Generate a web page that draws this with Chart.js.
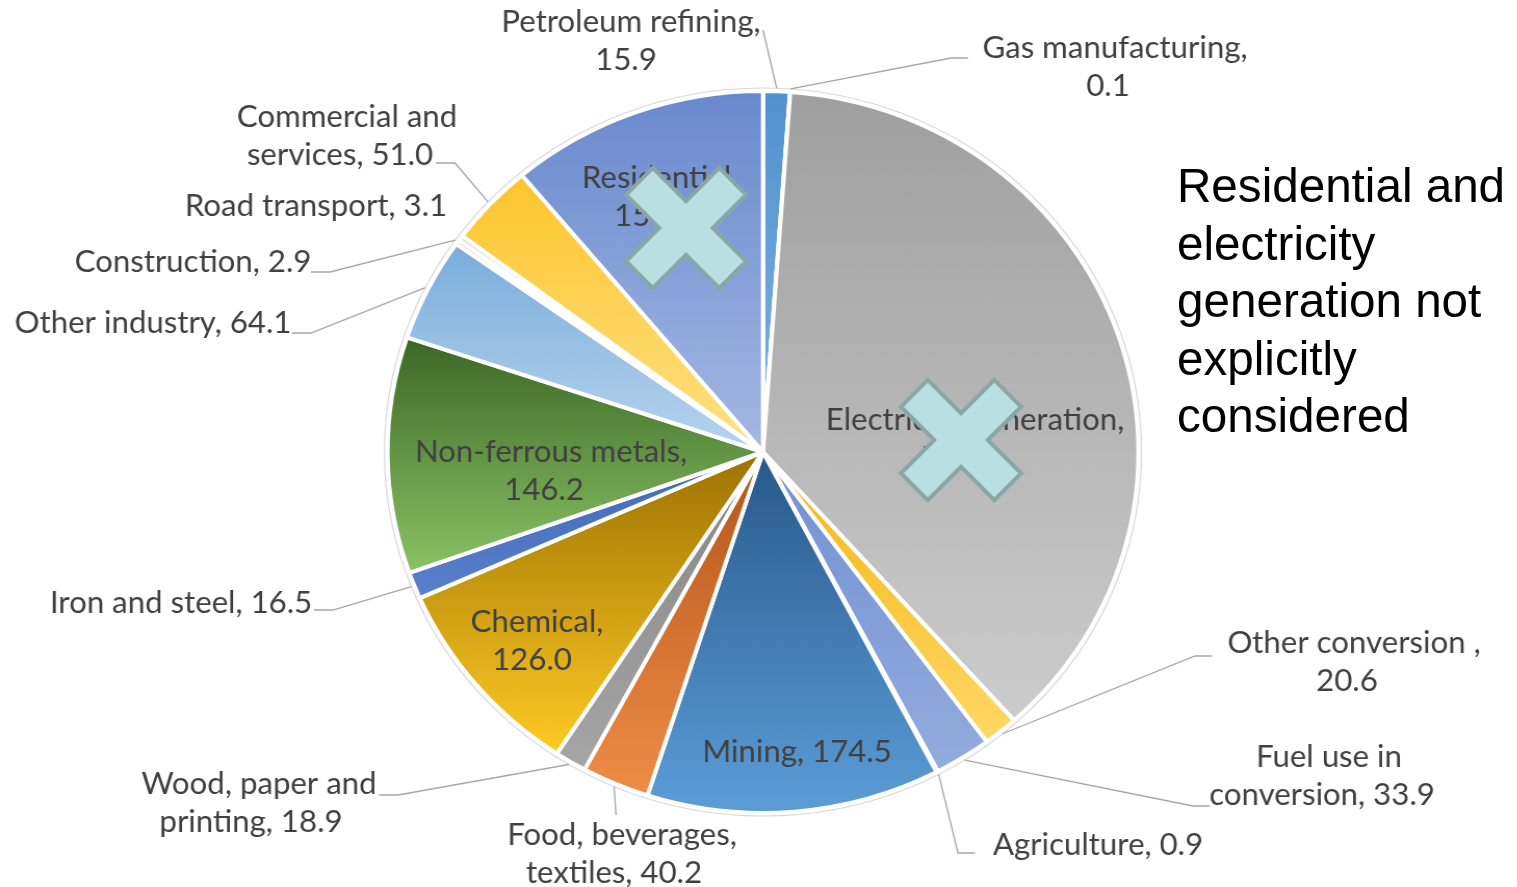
<!DOCTYPE html>
<html>
<head>
<meta charset="utf-8">
<script src="https://cdn.jsdelivr.net/npm/chart.js@4.4.1/dist/chart.umd.min.js"></script>
<style>
  html, body { margin: 0; padding: 0; background: #fff; overflow: hidden; }
  #wrap { position: absolute; left: 0; top: 0; width: 1459px; height: 887px; transform: scaleX(1.04); transform-origin: 0 0; }
  #note { position: absolute; left: 1177px; top: 157px; font-family: "Liberation Sans", Arial, sans-serif; font-size: 47.6px; line-height: 57.5px; color: #000; }
</style>
</head>
<body>
<div id="wrap"><canvas id="pie" width="1459" height="887"></canvas></div>
<div id="note">Residential and<br>electricity<br>generation not<br>explicitly<br>considered</div>
<script>
// energy use by sector, clockwise from 12 o'clock
const sectors = ['Petroleum refining', 'Gas manufacturing', 'Electricity generation', 'Other conversion ',
  'Fuel use in conversion', 'Agriculture', 'Mining', 'Food, beverages, textiles', 'Wood, paper and printing',
  'Chemical', 'Iron and steel', 'Non-ferrous metals', 'Other industry', 'Construction', 'Road transport',
  'Commercial and services', 'Residential'];
const values = [15.9, 0.1, 514.0, 20.6, 33.9, 0.9, 174.5, 40.2, 18.9, 126.0, 16.5, 146.2, 64.1, 2.9, 3.1, 51.0, 153.4];

// gradient ends for each slice (top of slice -> bottom of slice)
const topColors = ['#5190cf', '#e06f26', '#9f9f9f', '#f3b614', '#7290d1', '#66a03f', '#28598a', '#b3561a',
  '#848484', '#9c7202', '#4068b6', '#3d6626', '#7aaddb', '#f2a66f', '#d0d0d0', '#fcc52c', '#6989cd'];
const bottomColors = ['#80b4e3', '#f29a5c', '#cccccc', '#ffd866', '#93acde', '#8cc266', '#5c9dd8', '#f08c46',
  '#a6a6a6', '#ffca24', '#5a80cd', '#8ac364', '#b7d4ee', '#f8c8a2', '#e6e6e6', '#ffe084', '#a5b8e3'];

// label layout: centre x, first line centre y, words on first line (0 = one line), second line x shift
const labelPos = [
  [631, 22, 2, -5], [1115, 48, 2, -7], [975, 420, 2, -16], [1354, 643, 3, -7], [1329, 757, 3, -7], [1098, 845, 0],
  [797, 752, 0], [622, 835, 2, -8], [259, 784, 3, -8], [537, 622, 1, -5], [181, 603, 0], [551, 452, 2, -7],
  [153, 323, 0], [193, 262, 0], [316, 206, 0], [347, 117, 2, -7], [660, 178, 1, -6]
];
// leader line: elbow x, elbow y, stub length towards the text
const leaders = [
  [763, 30, 0], [951, 58, 17], null, [1195, 656, 17], [1193, 806, 17], [958, 853, 17],
  null, [616, 815, 0], [398, 795, -19], null, [333, 610, -19], null,
  [311, 333, -19], [330, 272, -19], null, [455, 163, -19], null
];
// crossed-out markers
const crosses = [[686, 228], [961, 440]];

const SX = 1.04;
const RADIUS = 361;

function sliceFill(c) {
  const i = c.dataIndex;
  const area = c.chart.chartArea;
  if (i === undefined) return '#cccccc';
  if (!area) return topColors[i];
  const cx = (area.left + area.right) / 2, cy = (area.top + area.bottom) / 2;
  const total = values.reduce((s, v) => s + v, 0);
  let before = 0;
  for (let k = 0; k < i; k++) before += values[k];
  const a1 = before / total * 2 * Math.PI - Math.PI / 2;
  const a2 = (before + values[i]) / total * 2 * Math.PI - Math.PI / 2;
  const ys = [cy, cy + Math.sin(a1) * RADIUS, cy + Math.sin(a2) * RADIUS];
  [-Math.PI / 2, Math.PI / 2, 3 * Math.PI / 2].forEach(a => {
    if (a > a1 && a < a2) ys.push(cy + Math.sin(a) * RADIUS);
  });
  const y0 = Math.min(...ys), y1 = Math.max(...ys);
  const g = c.chart.ctx.createLinearGradient(0, y0, 0, Math.max(y1, y0 + 1));
  g.addColorStop(0, topColors[i]);
  g.addColorStop(1, bottomColors[i]);
  return g;
}

function labelLines(i) {
  const words = (sectors[i] + ', ' + values[i].toFixed(1)).split(' ');
  const n = labelPos[i][2];
  if (!n) return [words.join(' ')];
  return [words.slice(0, n).join(' '), words.slice(n).join(' ')];
}

function drawCross(ctx, x, y) {
  const w = 19, L = 66;
  const pts = [[w, -L], [w, -w], [L, -w], [L, w], [w, w], [w, L], [-w, L], [-w, w], [-L, w], [-L, -w], [-w, -w], [-w, -L]];
  ctx.save();
  ctx.translate(x / SX, y);
  ctx.scale(1 / SX, 1);
  ctx.rotate(Math.PI / 4);
  ctx.beginPath();
  pts.forEach((p, k) => k ? ctx.lineTo(p[0], p[1]) : ctx.moveTo(p[0], p[1]));
  ctx.closePath();
  ctx.fillStyle = '#b9dfe2';
  ctx.fill();
  ctx.lineJoin = 'miter';
  ctx.lineWidth = 4;
  ctx.strokeStyle = '#8aa6a7';
  ctx.stroke();
  ctx.restore();
}

const sliceLabels = {
  id: 'sliceLabels',
  afterDraw(chart) {
    const ctx = chart.ctx;
    const arcs = chart.getDatasetMeta(0).data;
    const ring = arcs[0].outerRadius + 3;
    ctx.save();

    // thin outline round the whole pie
    ctx.beginPath();
    ctx.arc(arcs[0].x, arcs[0].y, ring, 0, Math.PI * 2);
    ctx.strokeStyle = '#d8d8d8';
    ctx.lineWidth = 1.2;
    ctx.stroke();

    // leader lines from slice edge to label
    ctx.strokeStyle = '#a6a6a6';
    ctx.lineWidth = 1.3;
    arcs.forEach((arc, i) => {
      const ld = leaders[i];
      if (!ld) return;
      const mid = (arc.startAngle + arc.endAngle) / 2;
      const px = arc.x + Math.cos(mid) * ring;
      const py = arc.y + Math.sin(mid) * ring;
      ctx.beginPath();
      ctx.moveTo(px, py);
      ctx.lineTo(ld[0] / SX, ld[1]);
      if (ld[2]) ctx.lineTo((ld[0] + ld[2]) / SX, ld[1]);
      ctx.stroke();
    });

    // category and value labels
    ctx.font = '30px Lato';
    ctx.fillStyle = '#404040';
    ctx.textAlign = 'center';
    ctx.textBaseline = 'middle';
    arcs.forEach((arc, i) => {
      const [x, y, , shift] = labelPos[i];
      labelLines(i).forEach((t, k) => ctx.fillText(t, (x + (k ? shift : 0)) / SX, y + k * 38.5));
    });

    crosses.forEach(p => drawCross(ctx, p[0], p[1]));
    ctx.restore();
  }
};

new Chart(document.getElementById('pie'), {
  type: 'pie',
  data: {
    labels: sectors,
    datasets: [{
      data: values,
      backgroundColor: sliceFill,
      borderColor: '#ffffff',
      borderWidth: 4,
      radius: RADIUS,
      hoverOffset: 0
    }]
  },
  options: {
    responsive: false,
    animation: false,
    events: [],
    layout: { padding: { left: 8.3, right: 0, top: 17, bottom: 0 } },
    plugins: {
      legend: { display: false },
      tooltip: { enabled: false }
    }
  },
  plugins: [sliceLabels]
});
</script>
</body>
</html>
